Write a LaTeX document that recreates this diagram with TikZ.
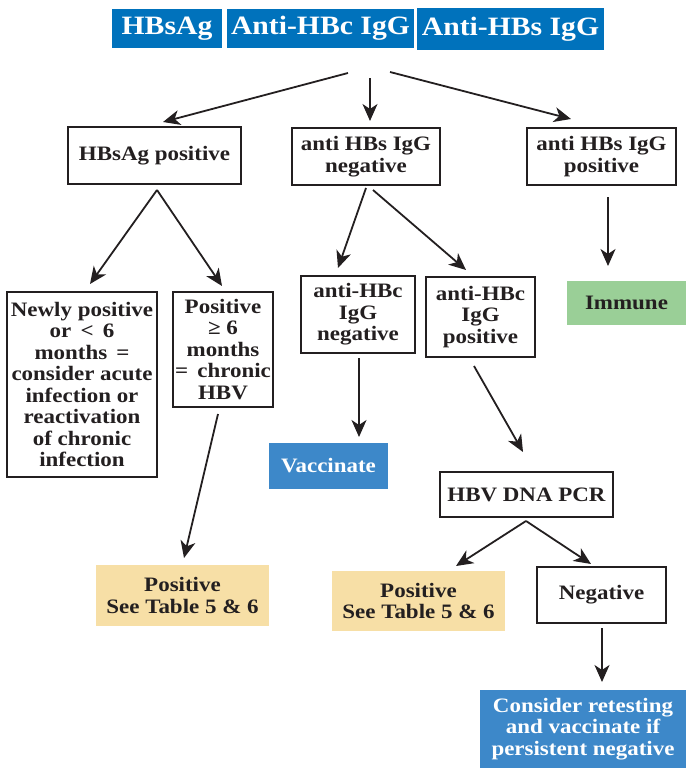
\documentclass[tikz,border=0pt]{standalone}
\usepackage{fontspec}
\setmainfont{Liberation Serif}[FakeStretch=1.12]
\usetikzlibrary{arrows.meta}
\definecolor{hblue}{RGB}{0,114,188}
\definecolor{lblue}{RGB}{61,136,201}
\definecolor{mgreen}{RGB}{154,207,151}
\definecolor{myellow}{RGB}{247,223,166}
\definecolor{ink}{RGB}{35,31,32}
\tikzset{
  base/.style={inner sep=0pt, align=center, font=\fontsize{20.5}{21.5}\selectfont\bfseries, text=ink},
  wbox/.style={base, draw=ink, line width=2pt, fill=white},
  head/.style={base, fill=hblue, text=white, font=\fontsize{26.5}{28}\selectfont\bfseries},
  bluebox/.style={base, fill=lblue, text=white},
  greenbox/.style={base, fill=mgreen},
  yelbox/.style={base, fill=myellow},
  arr/.style={draw=ink, line width=1.8pt, -{Stealth[length=17pt,width=15pt,inset=5pt]}}
}
\begin{document}
\begin{tikzpicture}[x=1pt,y=-1pt]
\useasboundingbox (0,0) rectangle (686,768);
% header
\node[head, minimum width=110pt, minimum height=39pt] (h1) at (167,28.5) {HBsAg};
\node[head, minimum width=187pt, minimum height=39pt] (h2) at (320.5,28.5) {Anti-HBc IgG};
\node[head, minimum width=187pt, minimum height=42pt] (h3) at (510.5,29) {Anti-HBs IgG};
% level 1
\node[wbox, minimum width=173pt, minimum height=57pt] (hbpos) at (154.5,155.5) {HBsAg positive};
\node[wbox, minimum width=148pt, minimum height=57pt] (negG) at (366,156.5) {anti HBs IgG\\negative};
\node[wbox, minimum width=149pt, minimum height=57pt] (posG) at (601.5,156.5) {anti HBs IgG\\positive};
% level 2
\node[wbox, minimum width=150pt, minimum height=185pt] (newly) at (82,384.5) {Newly positive\\or \,<\, 6\\months \,=\\consider acute\\infection or\\reactivation\\of chronic\\infection};
\node[wbox, minimum width=100pt, minimum height=115pt] (chronic) at (223,349.5) {Positive\\≥ 6\\months\\= \,chronic\\HBV};
\node[wbox, minimum width=114pt, minimum height=77pt] (cneg) at (358,314.5) {anti-HBc\\IgG\\negative};
\node[wbox, minimum width=109pt, minimum height=80pt] (cpos) at (480.5,317) {anti-HBc\\IgG\\positive};
\node[greenbox, minimum width=119pt, minimum height=44pt] (immune) at (626.5,303) {Immune};
% level 3
\node[bluebox, minimum width=119pt, minimum height=46pt] (vacc) at (328.5,466) {Vaccinate};
\node[wbox, minimum width=173pt, minimum height=45pt] (pcr) at (526.5,494.5) {HBV DNA PCR};
\node[yelbox, minimum width=173pt, minimum height=61pt] (tab1) at (182.5,595.5) {Positive\\See Table 5 \& 6};
\node[yelbox, minimum width=173pt, minimum height=60pt] (tab2) at (418.5,601) {Positive\\See Table 5 \& 6};
\node[wbox, minimum width=129pt, minimum height=56pt] (negpcr) at (601.5,595) {Negative};
\node[bluebox, minimum width=206pt, minimum height=78pt] (retest) at (583,729) {Consider retesting\\and vaccinate if\\persistent negative};
% connector coordinates
\coordinate (s1) at (348,73);  \coordinate (e1) at (163,122);
\coordinate (s2) at (370,78);  \coordinate (e2) at (370,121);
\coordinate (s3) at (390,72);  \coordinate (e3) at (571,119);
\coordinate (s4) at (157,190); \coordinate (e4) at (90,284); \coordinate (e5) at (222,286);
\coordinate (s6) at (366,188); \coordinate (e6) at (338,268);
\coordinate (s7) at (373,190); \coordinate (e7) at (466,270);
\coordinate (s8) at (608,197); \coordinate (e8) at (608,266);
\coordinate (s9) at (359,358); \coordinate (e9) at (359,437);
\coordinate (s10) at (474,366); \coordinate (e10) at (523,452);
\coordinate (s11) at (218,414); \coordinate (e11) at (184,558);
\coordinate (s12) at (526,521); \coordinate (e12) at (456,566); \coordinate (e13) at (591,564);
\coordinate (s14) at (602,628); \coordinate (e14) at (602,682);
\draw[arr] (s1) -- (e1);
\draw[arr] (s2) -- (e2);
\draw[arr] (s3) -- (e3);
\draw[arr] (s4) -- (e4);
\draw[arr] (s4) -- (e5);
\draw[arr] (s6) -- (e6);
\draw[arr] (s7) -- (e7);
\draw[arr] (s8) -- (e8);
\draw[arr] (s9) -- (e9);
\draw[arr] (s10) -- (e10);
\draw[arr] (s11) -- (e11);
\draw[arr] (s12) -- (e12);
\draw[arr] (s12) -- (e13);
\draw[arr] (s14) -- (e14);
\end{tikzpicture}
\end{document}
